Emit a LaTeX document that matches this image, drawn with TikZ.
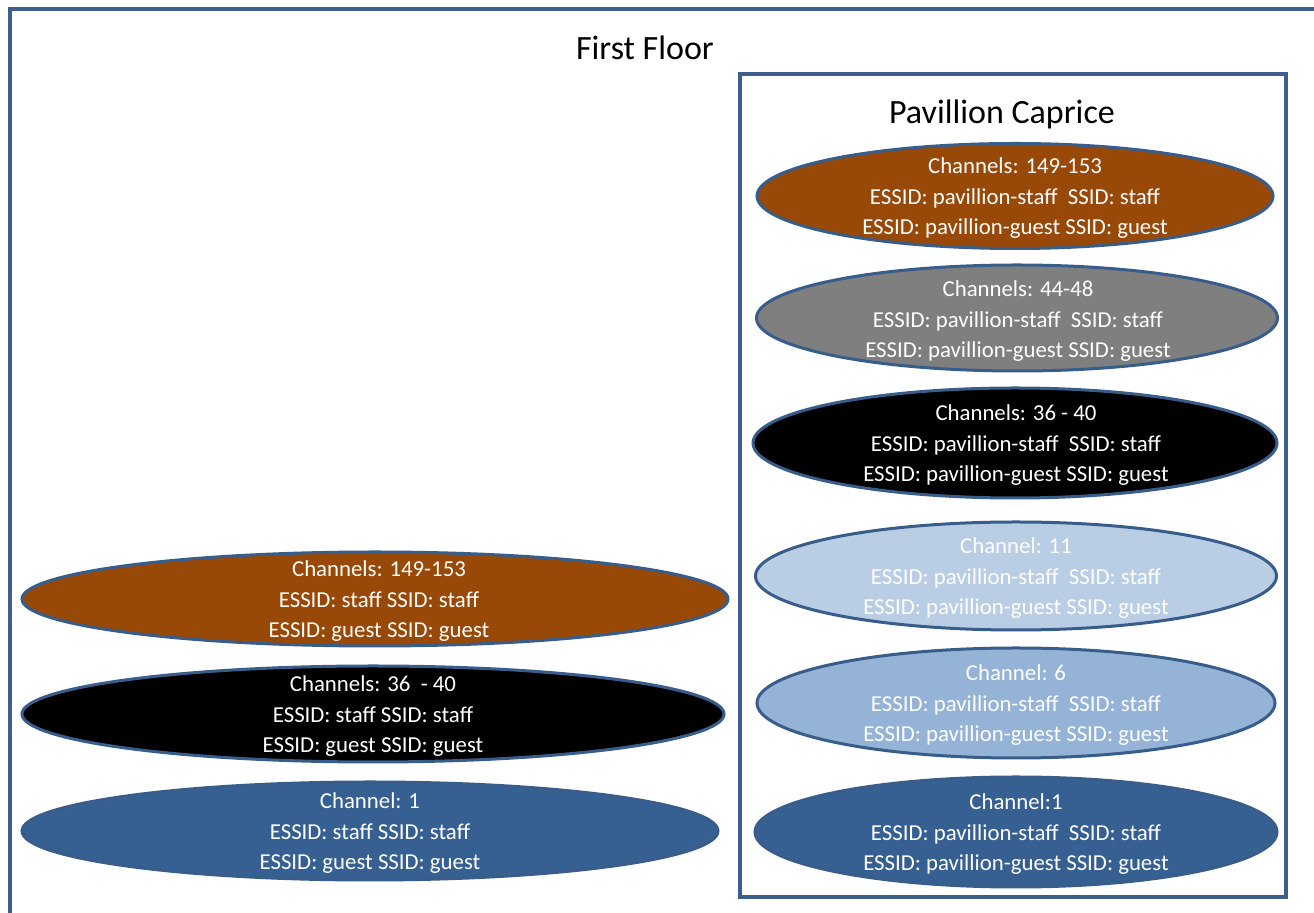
\documentclass[tikz,border=0pt]{standalone}
\usepackage{fontspec}
\setmainfont{Carlito}
\usetikzlibrary{shapes.geometric}
\definecolor{frameblue}{RGB}{59,94,140}
\definecolor{rimblue}{RGB}{56,93,138}
\definecolor{rust}{RGB}{152,72,7}
\definecolor{ashgrey}{RGB}{127,127,127}
\definecolor{paleblue}{RGB}{185,205,229}
\definecolor{midblue}{RGB}{149,179,215}
\definecolor{deepblue}{RGB}{55,96,146}

\begin{document}
\begin{tikzpicture}[x=0.5pt,y=-0.5pt,
  cell/.style={ellipse, draw=rimblue, line width=1.5pt, inner sep=0pt},
  info/.style={text=white, align=center, inner sep=0pt, yshift=-1.2pt,
               font=\fontsize{11.4}{15.25}\selectfont},
  heading/.style={inner sep=0pt, anchor=base, font=\fontsize{17}{21}\selectfont}]
\useasboundingbox (0,0) rectangle (1314,913);
\fill[white] (0,0) rectangle (1314,913);

% outer floor frame (runs past the page edge on the right and bottom)
\begin{scope}
  \clip (0,0) rectangle (1314,913);
  \draw[frameblue, line width=2pt] (9.5,9.5) rectangle (1316,930);
\end{scope}
\node[heading] (floor) at (645,60) {First Floor};

% pavilion area
\draw[frameblue, line width=2pt] (739.5,74.5) rectangle (1286,897);
\node[heading] (pav) at (1002,124) {Pavillion Caprice};

% pavilion access points
\node[cell, fill=rust, minimum width=516pt/2, minimum height=105pt/2] (p1) at (1015,196) {};
\node[info] (p1t) at (p1) {Channels: 149-153\\ESSID: pavillion-staff \ SSID: staff\\ESSID: pavillion-guest SSID: guest};

\node[cell, fill=ashgrey, minimum width=521pt/2, minimum height=106pt/2] (p2) at (1017,318) {};
\node[info] (p2t) at (1018,319) {Channels: 44-48\\ESSID: pavillion-staff \ SSID: staff\\ESSID: pavillion-guest SSID: guest};

\node[cell, fill=black, minimum width=524pt/2, minimum height=110pt/2] (p3) at (1015,443) {};
\node[info] (p3t) at (1016,443) {Channels: 36 - 40\\ESSID: pavillion-staff \ SSID: staff\\ESSID: pavillion-guest SSID: guest};

\node[cell, fill=paleblue, minimum width=521pt/2, minimum height=108pt/2] (p4) at (1016,576) {};
\node[info] (p4t) at (p4) {Channel: 11\\ESSID: pavillion-staff \ SSID: staff\\ESSID: pavillion-guest SSID: guest};

\node[cell, fill=midblue, minimum width=518pt/2, minimum height=110pt/2] (p5) at (1016,703) {};
\node[info] (p5t) at (p5) {Channel: 6\\ESSID: pavillion-staff \ SSID: staff\\ESSID: pavillion-guest SSID: guest};

\node[cell, fill=deepblue, minimum width=522pt/2, minimum height=110pt/2] (p6) at (1016,832) {};
\node[info] (p6t) at (p6) {Channel:1\\ESSID: pavillion-staff \ SSID: staff\\ESSID: pavillion-guest SSID: guest};

% first floor access points
\node[cell, fill=rust, minimum width=706pt/2, minimum height=94pt/2] (f1) at (375,599) {};
\node[info] (f1t) at (379,599) {Channels: 149-153\\ESSID: staff SSID: staff\\ESSID: guest SSID: guest};

\node[cell, fill=black, minimum width=702pt/2, minimum height=96pt/2] (f2) at (373,714) {};
\node[info] (f2t) at (f2) {Channels: 36 \ - 40\\ESSID: staff SSID: staff\\ESSID: guest SSID: guest};

\node[cell, fill=deepblue, minimum width=696pt/2, minimum height=98pt/2] (f3) at (370,831) {};
\node[info] (f3t) at (f3) {Channel: 1\\ESSID: staff SSID: staff\\ESSID: guest SSID: guest};
\end{tikzpicture}
\end{document}
